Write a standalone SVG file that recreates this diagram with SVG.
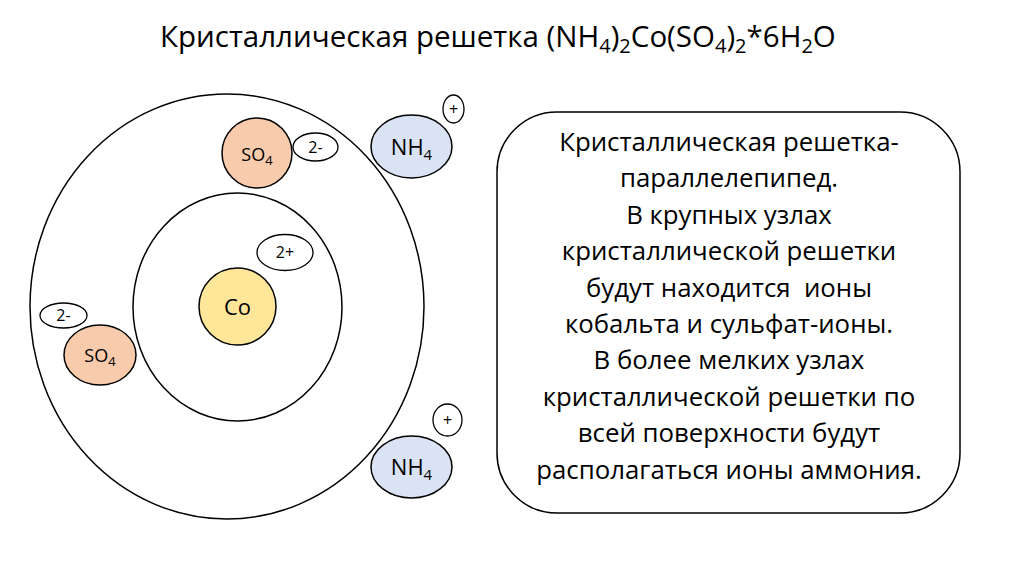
<svg xmlns="http://www.w3.org/2000/svg" width="1024" height="574" viewBox="0 0 1024 574">
<style>
text{font-family:"Open Sans","Noto Sans","Liberation Sans",sans-serif;fill:#000}
.ln{fill:none;stroke:#000;stroke-width:1.5}
.so4{fill:#F8CBAD;stroke:#000;stroke-width:1.5}
.nh4{fill:#DAE3F3;stroke:#000;stroke-width:1.5}
.co{fill:#FFE699;stroke:#000;stroke-width:1.5}
.chg{fill:#fff;stroke:#000;stroke-width:1.3}
.lbl{font-size:18px;text-anchor:middle}
.big{font-size:22px;text-anchor:middle}
.sm{font-size:16px;text-anchor:middle}
.box{font-size:25.8px;text-anchor:middle;white-space:pre}
</style>
<rect width="1024" height="574" fill="#fff"/>
<text id="title" x="160" y="47" font-size="29.5">Кристаллическая решетка (NH<tspan font-size="20" dy="6">4</tspan><tspan dy="-6">)</tspan><tspan font-size="20" dy="6">2</tspan><tspan dy="-6">Co(SO</tspan><tspan font-size="20" dy="6">4</tspan><tspan dy="-6">)</tspan><tspan font-size="20" dy="6">2</tspan><tspan dy="-6">*6H</tspan><tspan font-size="20" dy="6">2</tspan><tspan dy="-6">O</tspan></text>
<g id="outer-shell"><ellipse class="ln" cx="227" cy="306.5" rx="197" ry="212.5"/></g>
<g id="inner-shell"><ellipse class="ln" cx="237.5" cy="307" rx="104.5" ry="114"/></g>
<g id="connectors"></g>
<g id="co">
<ellipse class="co" cx="237.5" cy="306.5" rx="38.5" ry="38.5"/>
<text class="big" x="237.5" y="315">Co</text>
</g>
<g id="co-charge">
<ellipse class="chg" cx="285" cy="252.5" rx="28" ry="18"/>
<text class="sm" x="285" y="258">2+</text>
</g>
<g id="so4-top">
<ellipse class="so4" cx="257" cy="153" rx="35" ry="35"/>
<text class="lbl" x="257" y="161">SO<tspan font-size="13" dy="4">4</tspan></text>
</g>
<g id="so4-top-charge">
<ellipse class="chg" cx="315.5" cy="147" rx="22.5" ry="14"/>
<text class="sm" x="315.5" y="153">2-</text>
</g>
<g id="so4-left">
<ellipse class="so4" cx="100" cy="355" rx="36" ry="30"/>
<text class="lbl" x="100" y="362">SO<tspan font-size="13" dy="4">4</tspan></text>
</g>
<g id="so4-left-charge">
<ellipse class="chg" cx="63.5" cy="315.5" rx="23.5" ry="12.5"/>
<text class="sm" x="63.5" y="321">2-</text>
</g>
<g id="nh4-top">
<ellipse class="nh4" cx="411.5" cy="146.5" rx="40.5" ry="31.5"/>
<text class="big" x="411.5" y="155">NH<tspan font-size="15" dy="5">4</tspan></text>
</g>
<g id="nh4-top-charge">
<ellipse class="chg" cx="453.5" cy="109" rx="10.5" ry="14"/>
<text class="sm" x="453.5" y="114.5" font-size="15">+</text>
</g>
<g id="nh4-bottom">
<ellipse class="nh4" cx="411.5" cy="467" rx="40.5" ry="31"/>
<text class="big" x="411.5" y="475">NH<tspan font-size="15" dy="5">4</tspan></text>
</g>
<g id="nh4-bottom-charge">
<ellipse class="chg" cx="447.5" cy="420" rx="14.5" ry="16"/>
<text class="sm" x="447.5" y="425.5" font-size="15">+</text>
</g>
<g id="note">
<rect class="ln" x="497" y="112" width="463" height="401" rx="60" ry="60"/>
<text class="box" x="729" y="151">Кристаллическая решетка-</text>
<text class="box" x="729" y="187.4">параллелепипед.</text>
<text class="box" x="729" y="223.8">В крупных узлах</text>
<text class="box" x="729" y="260.2">кристаллической решетки</text>
<text class="box" x="729" y="296.6">будут находится  ионы</text>
<text class="box" x="729" y="333">кобальта и сульфат-ионы.</text>
<text class="box" x="729" y="369.4">В более мелких узлах</text>
<text class="box" x="729" y="405.8">кристаллической решетки по</text>
<text class="box" x="729" y="442.2">всей поверхности будут</text>
<text class="box" x="729" y="478.6">располагаться ионы аммония.</text>
</g>
</svg>
